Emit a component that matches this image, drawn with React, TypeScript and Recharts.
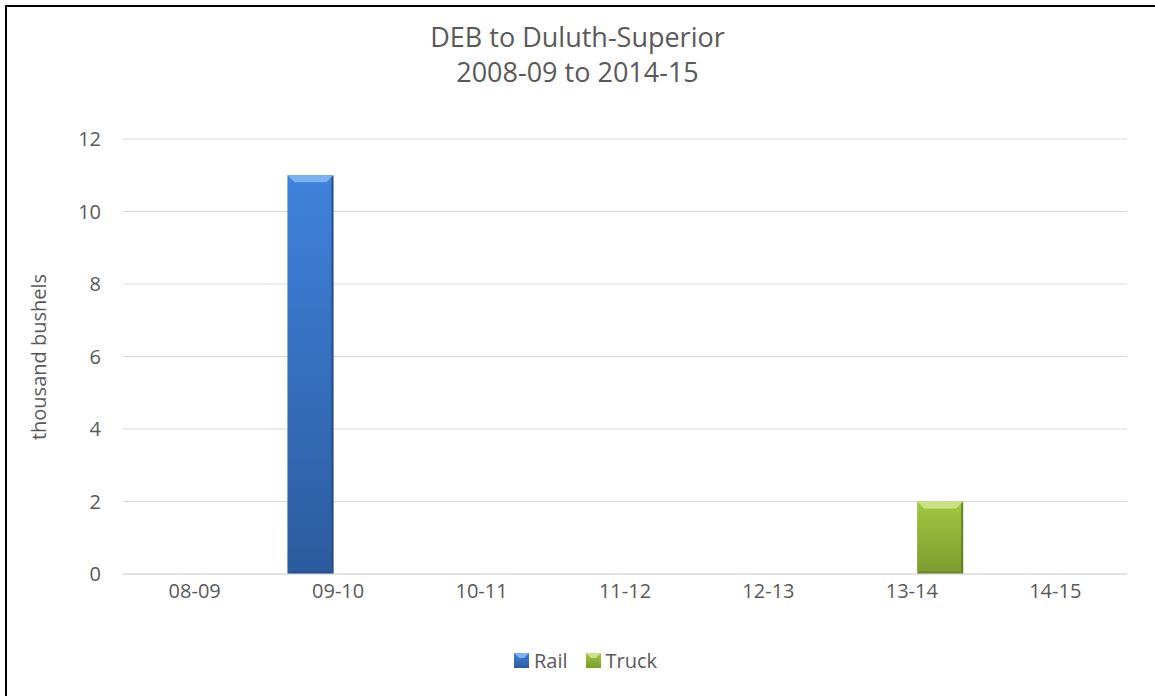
import { BarChart, Bar, XAxis, YAxis, CartesianGrid } from "recharts";

const seasons = ["08-09", "09-10", "10-11", "11-12", "12-13", "13-14", "14-15"];
const railValues = [0, 11, 0, 0, 0, 0, 0];
const truckValues = [0, 0, 0, 0, 0, 2, 0];
const yTicks = [0, 2, 4, 6, 8, 10, 12];
const seriesNames = ["Rail", "Truck"];

const data = seasons.map((season, i) => ({
  season,
  Rail: railValues[i],
  Truck: truckValues[i],
}));

const FONT = "'Open Sans', Calibri, sans-serif";
const TEXT = "#595959";

// colours for the bevelled bar look
const palette: Record<string, { top: string; bottom: string; bevel: string; edge: string; id: string }> = {
  Rail: { top: "#3f82dc", bottom: "#2c5b9e", bevel: "#7ab2f2", edge: "#24497f", id: "railGrad" },
  Truck: { top: "#a0c742", bottom: "#7b9c2d", bevel: "#c9e283", edge: "#5c771f", id: "truckGrad" },
};

function BevelBar(props: any) {
  const { x, y, width, height, dataKey } = props;
  if (!height || height <= 0) return null;
  const c = palette[dataKey];
  const b = Math.min(7, height / 3);
  return (
    <g>
      <rect x={x} y={y} width={width} height={height} fill={`url(#${c.id})`} />
      <polygon
        points={`${x},${y} ${x + width},${y} ${x + width - b},${y + b} ${x + b},${y + b}`}
        fill={c.bevel}
      />
      <polygon
        points={`${x + width},${y} ${x + width},${y + height} ${x + width - 2},${y + height - 2} ${x + width - 2},${y + 2}`}
        fill={c.edge}
        opacity={0.8}
      />
      <polygon
        points={`${x},${y + height} ${x + width},${y + height} ${x + width - 3},${y + height - 3} ${x + 3},${y + height - 3}`}
        fill={c.edge}
        opacity={0.5}
      />
    </g>
  );
}

function LegendSwatch({ name }: { name: string }) {
  const c = palette[name];
  return (
    <svg width={15} height={15} style={{ marginRight: 5 }}>
      <defs>
        <linearGradient id={`${c.id}L`} x1="0" y1="0" x2="0" y2="1">
          <stop offset="0%" stopColor={c.top} />
          <stop offset="100%" stopColor={c.bottom} />
        </linearGradient>
      </defs>
      <rect x={0} y={0} width={15} height={15} fill={`url(#${c.id}L)`} />
      <polygon points="0,0 15,0 10,5 5,5" fill={c.bevel} />
    </svg>
  );
}

export default function App() {
  return (
    <div style={{ position: "absolute", left: 0, top: 0, width: 1155, height: 696, background: "#fff", overflow: "hidden" }}>
      <div
        style={{
          position: "absolute",
          left: 5,
          top: 5,
          width: 1200,
          height: 800,
          borderLeft: "2px solid #000",
          borderTop: "2px solid #000",
        }}
      />
      <div
        style={{
          position: "absolute",
          left: 0,
          top: 19,
          width: 1155,
          textAlign: "center",
          fontFamily: FONT,
          fontSize: 27,
          lineHeight: "35px",
          color: TEXT,
        }}
      >
        DEB to Duluth-Superior
        <br />
        2008-09 to 2014-15
      </div>
      <div style={{ position: "absolute", left: 0, top: 0 }}>
        <BarChart
          width={1155}
          height={696}
          data={data}
          margin={{ top: 139, right: 28, bottom: 82, left: 20 }}
          barCategoryGap={21}
          barGap={10}
        >
          <defs>
            {Object.values(palette).map((c) => (
              <linearGradient key={c.id} id={c.id} x1="0" y1="0" x2="0" y2="1">
                <stop offset="0%" stopColor={c.top} />
                <stop offset="100%" stopColor={c.bottom} />
              </linearGradient>
            ))}
          </defs>
          <CartesianGrid vertical={false} stroke="#d9d9d9" strokeWidth={1} />
          <XAxis
            dataKey="season"
            axisLine={{ stroke: "#d9d9d9" }}
            tickLine={false}
            tick={{ fill: TEXT, fontFamily: FONT, fontSize: 20 }}
            tickMargin={4}
            height={40}
          />
          <YAxis
            width={103}
            domain={[0, 12]}
            ticks={yTicks}
            axisLine={false}
            tickLine={false}
            tick={{ fill: TEXT, fontFamily: FONT, fontSize: 20 }}
            tickSize={0}
            tickMargin={22}
            label={{
              content: () => (
                <text
                  x={38}
                  y={357}
                  transform="rotate(-90 38 357)"
                  textAnchor="middle"
                  dominantBaseline="central"
                  fill={TEXT}
                  fontFamily={FONT}
                  fontSize={20}
                >
                  thousand bushels
                </text>
              ),
            }}
          />
          <Bar dataKey="Rail" isAnimationActive={false} shape={BevelBar} />
          <Bar dataKey="Truck" isAnimationActive={false} shape={BevelBar} />
        </BarChart>
      </div>
      <div
        style={{
          position: "absolute",
          left: 0,
          top: 645,
          width: 1155,
          height: 30,
          display: "flex",
          justifyContent: "center",
          alignItems: "center",
          gap: 18,
          paddingLeft: 16,
          boxSizing: "border-box",
          fontFamily: FONT,
          fontSize: 20,
          color: TEXT,
        }}
      >
        {seriesNames.map((name) => (
          <span key={name} style={{ display: "flex", alignItems: "center" }}>
            <LegendSwatch name={name} />
            {name}
          </span>
        ))}
      </div>
    </div>
  );
}
